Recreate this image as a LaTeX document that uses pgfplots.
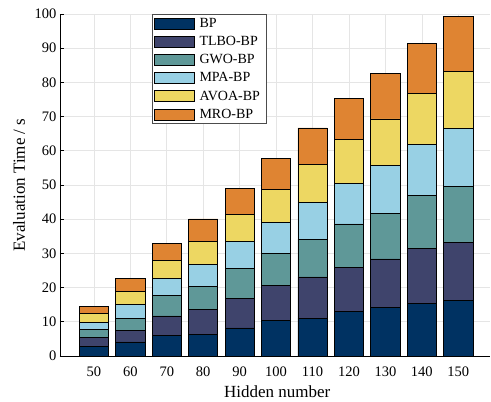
\documentclass[border=0pt]{standalone}
\usepackage{fontspec}
\setmainfont{Liberation Serif}
\usepackage{pgfplots}
\pgfplotsset{compat=1.18}
\definecolor{cBP}{HTML}{003262}
\definecolor{cTLBO}{HTML}{3F446C}
\definecolor{cGWO}{HTML}{5F9898}
\definecolor{cMPA}{HTML}{98D0E4}
\definecolor{cAVOA}{HTML}{EDD762}
\definecolor{cMRO}{HTML}{DF8432}
\pgfplotsset{mylegend/.style={legend image code/.code={\draw[##1,line width=0.7pt] (0pt,-5.5pt) rectangle (40pt,5.5pt);}}}
\begin{document}
\begin{tikzpicture}
\begin{axis}[
  scale only axis, width=430pt, height=342pt,
  ybar stacked, bar width=8,
  xmin=40.7, xmax=158.7, ymin=0, ymax=100,
  xtick={50,60,...,150}, ytick={0,10,...,100},
  grid=major, grid style={color=black!10, line width=0.6pt},
  axis x line*=bottom, axis y line*=left,
  axis line style={line width=0.7pt},
  tick align=inside, major tick length=4pt,
  tick style={black, line width=0.6pt},
  x tick style={draw=none},
  /pgf/number format/assume math mode=true,
  tick label style={font=\fontsize{14.5}{16}\selectfont},
  xticklabel style={anchor=base, yshift=-21pt},
  label style={font=\fontsize{17}{19}\selectfont},
  xlabel={Hidden number}, ylabel={Evaluation Time / s},
  xlabel style={at={(axis description cs:0.505,-0.1228)}, anchor=base},
  ylabel style={at={(axis description cs:-0.0814,0.5)}, anchor=base},
  legend style={at={(0.214,1)}, anchor=north west, draw=black!70, line width=0.6pt,
    font=\fontsize{14}{16}\selectfont, inner xsep=2pt, inner ysep=2pt, row sep=3.4pt,
    cells={anchor=west}, nodes={inner xsep=4.5pt}},
  every axis plot/.append style={draw=black, line width=0.7pt},
]
\addplot[fill=cBP, mylegend] coordinates {(50,2.7) (60,4.1) (70,5.9) (80,6.3) (90,8.2) (100,10.3) (110,11.1) (120,13.0) (130,14.3) (140,15.4) (150,16.3)};
\addplot[fill=cTLBO, mylegend] coordinates {(50,2.85) (60,3.5) (70,5.8) (80,7.2) (90,8.7) (100,10.3) (110,12.0) (120,12.9) (130,14.1) (140,16.0) (150,16.9)};
\addplot[fill=cGWO, mylegend] coordinates {(50,2.25) (60,3.5) (70,5.9) (80,6.9) (90,8.7) (100,9.3) (110,11.1) (120,12.7) (130,13.3) (140,15.5) (150,16.5)};
\addplot[fill=cMPA, mylegend] coordinates {(50,1.9) (60,4.1) (70,5.1) (80,6.5) (90,7.9) (100,9.2) (110,10.7) (120,11.9) (130,14.1) (140,15.0) (150,16.8)};
\addplot[fill=cAVOA, mylegend] coordinates {(50,2.8) (60,3.8) (70,5.3) (80,6.6) (90,7.8) (100,9.6) (110,11.2) (120,12.9) (130,13.5) (140,14.9) (150,16.6)};
\addplot[fill=cMRO, mylegend] coordinates {(50,2.1) (60,3.6) (70,5.0) (80,6.6) (90,7.7) (100,9.0) (110,10.6) (120,11.9) (130,13.4) (140,14.7) (150,16.1)};
\legend{BP,TLBO-BP,GWO-BP,MPA-BP,AVOA-BP,MRO-BP}
\end{axis}
\pgfresetboundingbox
\path ([shift={(-60pt,-46pt)}]current axis.south west) rectangle ([shift={(1pt,14pt)}]current axis.north east);
\end{tikzpicture}
\end{document}
